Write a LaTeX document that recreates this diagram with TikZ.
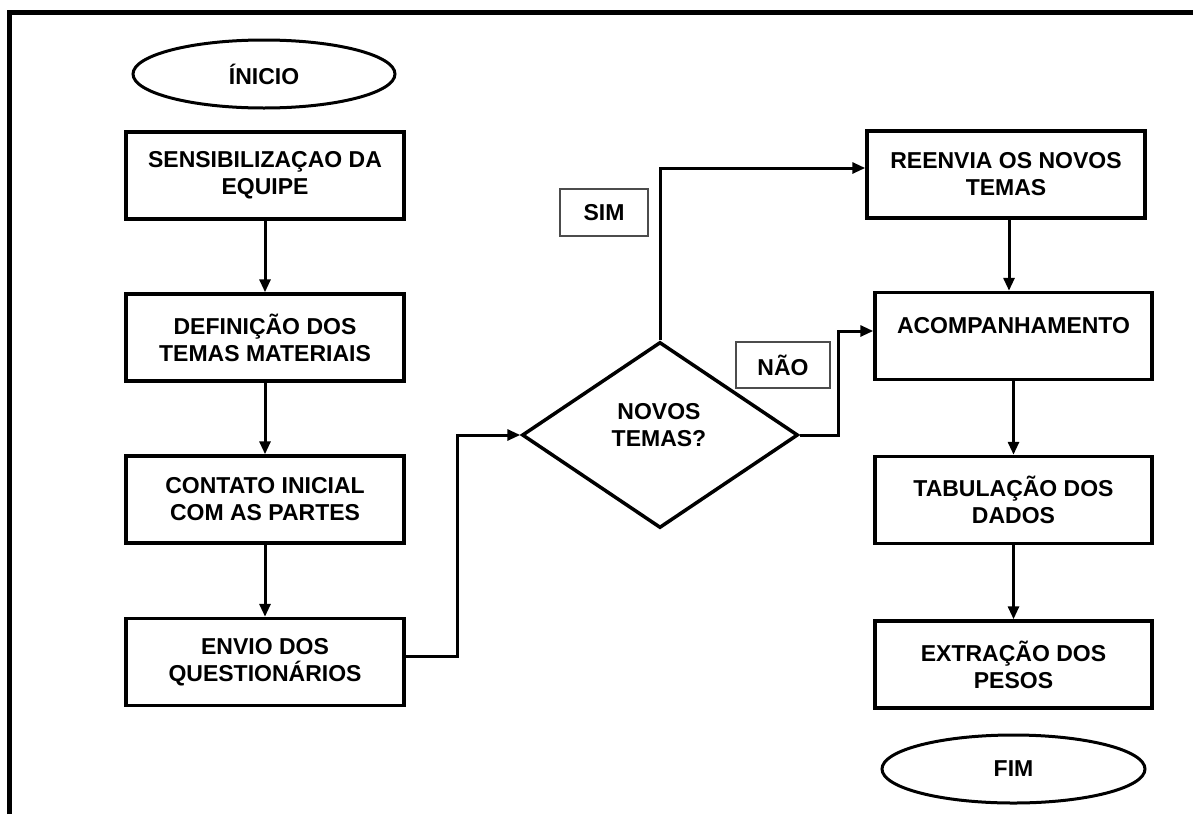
\documentclass[tikz,border=0pt]{standalone}
\usepackage{fontspec}
\setmainfont{Liberation Sans}
\usetikzlibrary{shapes.geometric,arrows.meta}
\begin{document}
\begin{tikzpicture}[x=1pt,y=-1pt,
  txt/.style={font=\fontsize{23}{27}\selectfont\bfseries, align=center, text=black},
  procbox/.style={txt, draw, line width=3.5pt, rectangle, minimum width=278pt, minimum height=87pt, inner sep=0pt},
  term/.style={txt, draw, line width=3pt, ellipse, minimum width=262pt, minimum height=68pt, inner sep=0pt},
  dia/.style={draw, diamond, line width=3.5pt, minimum width=276pt, minimum height=186pt, inner sep=0pt, aspect=1.48},
  lab/.style={txt, draw=black!70, line width=1.5pt, inner sep=0pt},
  conn/.style={line width=3pt, -{Triangle[length=13pt,width=11pt]}},
  frame/.style={line width=5pt},
]
\useasboundingbox (0,0) rectangle (1193,814);
\draw[frame] (9,814) -- (9,12) -- (1193,12);

% left column
\node[term] (inicio) at (264,74) {ÍNICIO};
\node[procbox] (b1) at (265,175.5) {SENSIBILIZAÇAO DA\\EQUIPE};
\node[procbox] (b2) at (265,337.5) {DEFINIÇÃO DOS\\TEMAS MATERIAIS};
\node[procbox] (b3) at (265,499.5) {CONTATO INICIAL\\COM AS PARTES};
\node[procbox] (b4) at (265,662) {ENVIO DOS\\QUESTIONÁRIOS};

% decision
\node[dia] (q) at (660,435) {};
\node[txt] (qt) at (659,425) {NOVOS\\TEMAS?};
\node[lab, minimum width=88pt, minimum height=47pt] (sim) at (604,212.5) {SIM};
\node[lab, minimum width=94pt, minimum height=46pt] (nao) at (783,365) {NÃO};

% right column
\node[procbox] (r1) at (1006,174.5) {REENVIA OS NOVOS\\TEMAS};
\node[procbox, minimum width=277pt] (r2) at (1013.5,336) {ACOMPANHAMENTO\\[-10pt]\vphantom{Q}};
\node[procbox, minimum width=277pt] (r3) at (1013.5,500) {TABULAÇÃO DOS\\DADOS};
\node[procbox, minimum width=277pt] (r4) at (1013.5,664.5) {EXTRAÇÃO DOS\\PESOS};
\node[term, minimum width=263pt] (fim) at (1013.5,769) {FIM};

% connectors
\draw[conn] (b1) -- (b2);
\draw[conn] (b2) -- (b3);
\draw[conn] (b3) -- (b4);
\draw[conn] ([yshift=6pt]b4.east) -- ++(52,0) |- (q.west);
\draw[conn] (q.north) |- ([yshift=6.5pt]r1.west);
\draw[conn] (q.east) -- ++(39,0) |- ([yshift=5pt]r2.west);
\draw[conn] ([xshift=3pt]r1.south) -- ([xshift=3pt]r1.south |- r2.north);
\draw[conn] (r2) -- (r3);
\draw[conn] (r3) -- (r4);
\end{tikzpicture}
\end{document}
